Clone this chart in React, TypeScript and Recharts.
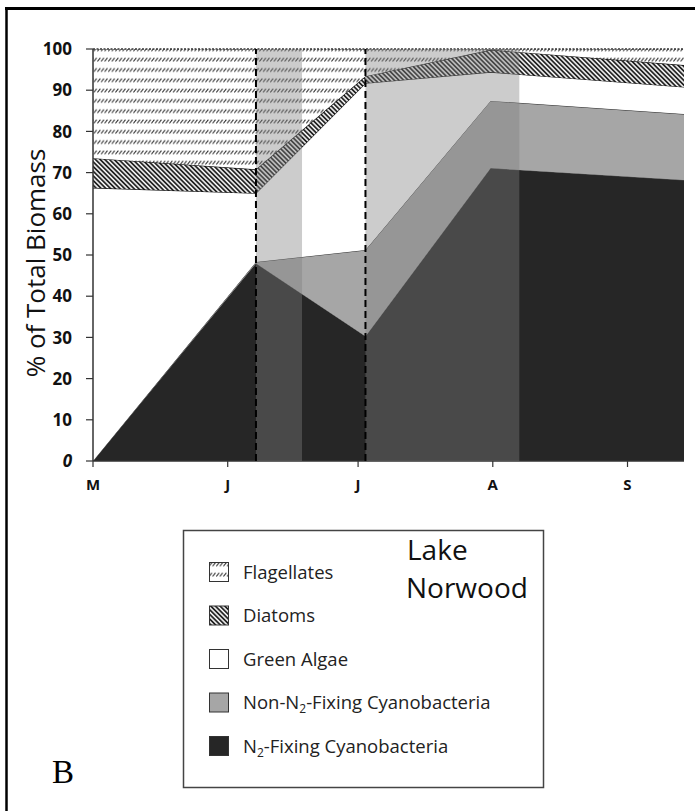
import React from "react";
import {
  ComposedChart,
  Area,
  XAxis,
  YAxis,
  ReferenceArea,
  ReferenceLine,
} from "recharts";

// Sampling dates, in days after 1 May
const days = [0, 37.5, 62.7, 91.5, 136];

// Share of total biomass (%) per group at each sampling date
const n2Fixing = [0, 48.0, 30.3, 71.1, 68.2];
const nonN2Fixing = [0, 0.3, 20.9, 16.3, 16.0];
const greenAlgae = [66.3, 16.7, 40.5, 7.0, 6.6];
const diatoms = [7.2, 5.8, 1.7, 5.4, 5.3];
const flagellates = [26.5, 29.2, 6.6, 0.2, 3.9];

// Month ticks (days after 1 May) and their labels
const monthTicks = [0, 31, 61, 92, 123];
const monthLabels = ["M", "J", "J", "A", "S"];

const percentTicks = [0, 10, 20, 30, 40, 50, 60, 70, 80, 90, 100];

// Shaded periods and their bounds (days after 1 May)
const shadedStart = [37.5, 62.7];
const shadedEnd = [48.1, 98.1];
const dashedDays = [37.5, 62.7];

const legendItems = [
  { key: "flag", label: ["Flagellates"], fill: "url(#flagHatch)" },
  { key: "diat", label: ["Diatoms"], fill: "url(#diatomHatch)" },
  { key: "green", label: ["Green Algae"], fill: "#ffffff" },
  { key: "non", label: ["Non-N", "2", "-Fixing Cyanobacteria"], fill: "#a6a6a6" },
  { key: "n2", label: ["N", "2", "-Fixing Cyanobacteria"], fill: "#262626" },
];

const data = days.map((d, i) => ({
  day: d,
  n2: n2Fixing[i],
  non: nonN2Fixing[i],
  green: greenAlgae[i],
  diat: diatoms[i],
  flag: flagellates[i],
}));

const FONT = "'Open Sans', 'DejaVu Sans', sans-serif";

const YTick = (props: any) => {
  const { x, y, payload } = props;
  return (
    <text
      x={x}
      y={y}
      dy="0.36em"
      textAnchor="end"
      fontFamily={FONT}
      fontWeight={700}
      fontSize={17}
      fontStyle={payload.value === 0 ? "italic" : "normal"}
      fill="#111"
    >
      {payload.value}
    </text>
  );
};

const XTick = (props: any) => {
  const { x, y, payload } = props;
  const idx = monthTicks.indexOf(payload.value);
  return (
    <text
      x={x}
      y={y}
      dy="0.71em"
      textAnchor="middle"
      fontFamily={FONT}
      fontWeight={700}
      fontSize={15}
      fill="#111"
    >
      {idx >= 0 ? monthLabels[idx] : ""}
    </text>
  );
};

const YLabel = (props: any) => {
  const vb = props.viewBox || { x: 33, y: 49, width: 60, height: 412 };
  const bx = vb.x + 12;
  const cy = vb.y + vb.height / 2 + 8;
  return (
    <text
      x={bx}
      y={cy}
      transform={`rotate(-90, ${bx}, ${cy})`}
      textAnchor="middle"
      fontFamily={FONT}
      fontSize={26}
      fill="#111"
    >
      % of Total Biomass
    </text>
  );
};

export default function App() {
  return (
    <div
      style={{
        position: "absolute",
        left: 0,
        top: 0,
        width: 695,
        height: 811,
        background: "#fff",
        overflow: "hidden",
      }}
    >
      <ComposedChart
        width={695}
        height={811}
        data={data}
        margin={{ top: 49, right: 11, left: 33, bottom: 310 }}
      >
        <defs>
          <pattern
            id="diatomHatch"
            patternUnits="userSpaceOnUse"
            width={3.3}
            height={3.3}
            patternTransform="rotate(-45)"
          >
            <rect width={3.3} height={3.3} fill="#fff" />
            <line x1={1} y1={0} x2={1} y2={3.3} stroke="#111" strokeWidth={1.7} />
          </pattern>
          <pattern
            id="flagHatch"
            patternUnits="userSpaceOnUse"
            width={3.6}
            height={10.3}
            y={3}
          >
            <rect width={3.6} height={10.3} fill="#fff" />
            <line x1={0.3} y1={7.0} x2={3.1} y2={3.4} stroke="#222" strokeWidth={1} />
          </pattern>
        </defs>
        <XAxis
          type="number"
          dataKey="day"
          domain={[0, 136]}
          ticks={monthTicks}
          interval={0}
          allowDataOverflow
          height={40}
          tickSize={6}
          tickMargin={12}
          tick={<XTick />}
          axisLine={{ stroke: "#333", strokeWidth: 1.5 }}
          tickLine={{ stroke: "#333", strokeWidth: 1.2 }}
        />
        <YAxis
          type="number"
          domain={[0, 100]}
          ticks={percentTicks}
          interval={0}
          width={60}
          tickSize={7}
          tickMargin={14}
          tick={<YTick />}
          axisLine={{ stroke: "#333", strokeWidth: 1.5 }}
          tickLine={{ stroke: "#333", strokeWidth: 1.2 }}
          label={<YLabel />}
        />
        <Area
          type="linear"
          dataKey="n2"
          stackId="b"
          fill="#262626"
          fillOpacity={1}
          stroke="#555"
          strokeWidth={1}
          isAnimationActive={false}
        />
        <Area
          type="linear"
          dataKey="non"
          stackId="b"
          fill="#a6a6a6"
          fillOpacity={1}
          stroke="#333"
          strokeWidth={1}
          isAnimationActive={false}
        />
        <Area
          type="linear"
          dataKey="green"
          stackId="b"
          fill="#ffffff"
          fillOpacity={1}
          stroke="#111"
          strokeWidth={1.2}
          isAnimationActive={false}
        />
        <Area
          type="linear"
          dataKey="diat"
          stackId="b"
          fill="url(#diatomHatch)"
          fillOpacity={1}
          stroke="#111"
          strokeWidth={1.2}
          isAnimationActive={false}
        />
        <Area
          type="linear"
          dataKey="flag"
          stackId="b"
          fill="url(#flagHatch)"
          fillOpacity={1}
          stroke="#333"
          strokeWidth={1.5}
          strokeDasharray="2 1.5"
          isAnimationActive={false}
        />
        {shadedStart.map((s, i) => (
          <ReferenceArea
            key={`band-${i}`}
            x1={s}
            x2={shadedEnd[i]}
            y1={0}
            y2={100}
            fill="#808080"
            fillOpacity={0.4}
            stroke="none"
            zIndex={500}
          />
        ))}
        {dashedDays.map((d, i) => (
          <ReferenceLine
            key={`dash-${i}`}
            x={d}
            stroke="#000"
            strokeWidth={2}
            strokeDasharray="7 4"
            zIndex={600}
          />
        ))}
      </ComposedChart>

      <svg
        width={695}
        height={811}
        style={{ position: "absolute", left: 0, top: 0, pointerEvents: "none" }}
      >
        {/* frame */}
        <line x1={5} y1={8.5} x2={695} y2={8.5} stroke="#000" strokeWidth={3} />
        <line x1={6.5} y1={7} x2={6.5} y2={811} stroke="#000" strokeWidth={2.5} />

        {/* legend */}
        <rect x={183.5} y={530.5} width={360} height={257} fill="#fff" stroke="#444" strokeWidth={1.5} />
        {legendItems.map((it, i) => {
          const cy = 572 + i * 43.5;
          return (
            <g key={it.key}>
              <rect x={209.5} y={cy - 9.5} width={19} height={19} fill={it.fill} stroke="#333" strokeWidth={1} />
              <text x={243} y={cy + 6.5} fontFamily={FONT} fontSize={18.5} fill="#222">
                {it.label.length === 1 ? (
                  it.label[0]
                ) : (
                  <>
                    <tspan>{it.label[0]}</tspan>
                    <tspan fontSize={12} dy={4}>{it.label[1]}</tspan>
                    <tspan dy={-4}>{it.label[2]}</tspan>
                  </>
                )}
              </text>
            </g>
          );
        })}
        <text x={407} y={560} fontFamily={FONT} fontSize={28} fill="#111">
          Lake
        </text>
        <text x={406} y={598} fontFamily={FONT} fontSize={28} fill="#111">
          Norwood
        </text>

        <text x={52} y={783} fontFamily="'Liberation Serif', 'Times New Roman', serif" fontSize={33} fill="#000">
          B
        </text>
      </svg>
    </div>
  );
}
